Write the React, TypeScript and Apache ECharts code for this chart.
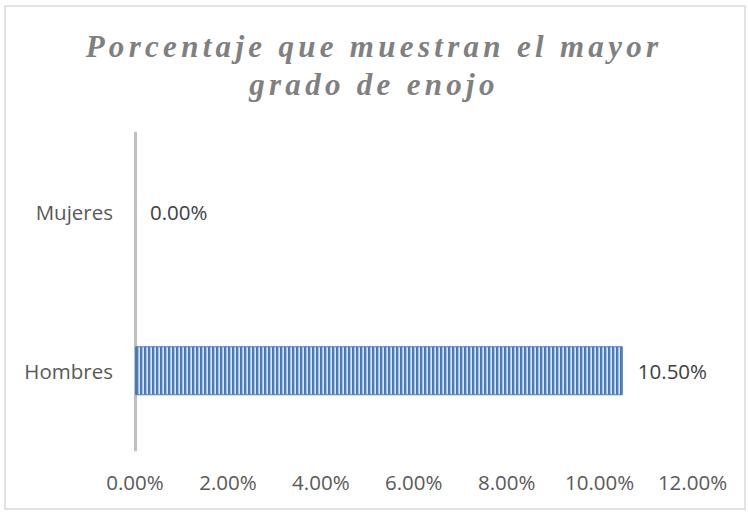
import React, { useEffect, useRef } from "react";
import * as echarts from "echarts";

const titleText = "Porcentaje que muestran el mayor\ngrado de enojo";
const categories = ["Hombres", "Mujeres"];
const values = [0.105, 0.0];
const axisMin = 0;
const axisMax = 0.12;
const axisStep = 0.02;

const pct = (v: number) => (v * 100).toFixed(2) + "%";

function makeStripe(): HTMLCanvasElement {
  const c = document.createElement("canvas");
  c.width = 4;
  c.height = 4;
  const ctx = c.getContext("2d")!;
  const cols = ["#4676b6", "#4f82c0", "#a3bfe2", "#dbe6f4"];
  cols.forEach((col, i) => {
    ctx.fillStyle = col;
    ctx.fillRect(i, 0, 1, 4);
  });
  return c;
}

export default function App() {
  const ref = useRef<HTMLDivElement>(null);
  useEffect(() => {
    if (!ref.current) return;
    const chart = echarts.init(ref.current, undefined, { renderer: "svg" });
    const stripe = makeStripe();
    chart.setOption({
      animation: false,
      backgroundColor: "#ffffff",
      title: {
        text: titleText,
        left: "center",
        top: 27,
        padding: 0,
        textStyle: {
          fontFamily: "Liberation Serif",
          fontStyle: "italic",
          fontWeight: "bold",
          fontSize: 31,
          lineHeight: 38,
          color: "#808080",
        },
      },
      graphic: [
        {
          type: "rect",
          shape: { x: 5, y: 6, width: 740, height: 503 },
          style: { fill: "none", stroke: "#d9d9d9", lineWidth: 1.5 },
          silent: true,
        },
      ],
      grid: { left: 135, right: 55.5, top: 133, bottom: 62, containLabel: false },
      xAxis: {
        type: "value",
        min: axisMin,
        max: axisMax,
        interval: axisStep,
        axisLine: { show: false },
        axisTick: { show: false },
        splitLine: { show: false },
        axisLabel: {
          formatter: (v: number) => pct(v),
          color: "#595959",
          fontFamily: "Open Sans",
          fontSize: 20.5,
          margin: 21,
        },
      },
      yAxis: {
        type: "category",
        data: categories,
        axisTick: { show: false },
        axisLine: { show: true, lineStyle: { color: "#bfbfbf", width: 3 } },
        axisLabel: {
          color: "#595959",
          fontFamily: "Open Sans",
          fontSize: 20.5,
          margin: 22,
        },
      },
      series: [
        {
          type: "bar",
          data: values.map((v) => ({
            value: v,
            itemStyle: { borderWidth: v === 0 ? 0 : 1 },
          })),
          barWidth: 49,
          itemStyle: {
            color: { image: stripe, repeat: "repeat" } as any,
            borderColor: "#4a7ebb",
          },
          label: {
            show: true,
            position: "right",
            distance: 15,
            formatter: (p: any) => pct(p.value),
            color: "#404040",
            fontFamily: "Open Sans",
            fontSize: 20.5,
          },
        },
      ],
    });
    return () => chart.dispose();
  }, []);
  return (
    <>
      <style>{'.ecbox text[fill="#808080"]{letter-spacing:4.3px}'}</style>
      <div
        ref={ref}
        className="ecbox"
        style={{ position: "fixed", left: 0, top: 0, width: 748, height: 512 }}
      />
    </>
  );
}
